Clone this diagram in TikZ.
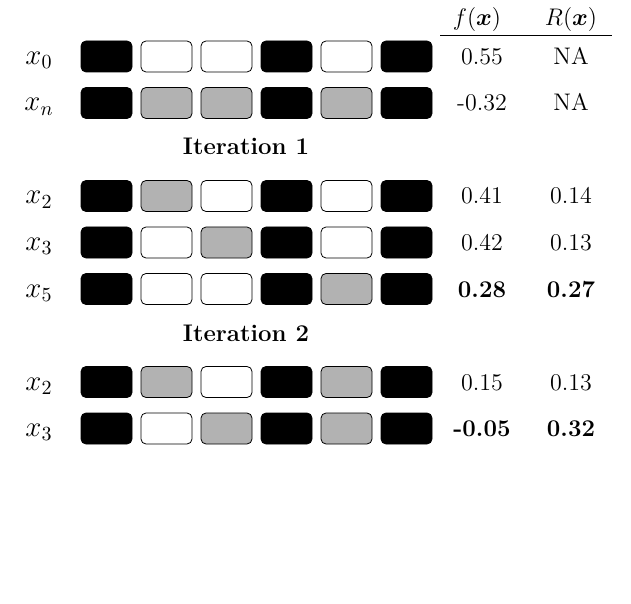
\documentclass[tikz,border=0pt]{standalone}
\usepackage{bm}
\begin{document}
\begin{tikzpicture}[x=0.5pt,y=-0.5pt,
  cell/.style={draw=black,line width=0.4pt,rounded corners=2.5pt,minimum width=25.5pt,minimum height=15.5pt,inner sep=0pt},
  B/.style={cell,fill=black},
  W/.style={cell,fill=white},
  G/.style={cell,fill=black!30},
  txt/.style={inner sep=0pt,anchor=base,font=\fontsize{12}{14}\selectfont},
  lab/.style={txt,font=\fontsize{14.5}{17}\selectfont}]
\useasboundingbox (0,0) rectangle (631,604);
% header
\node[txt] (hf) at (477,26) {$f(\bm{x})$};
\node[txt] (hr) at (571,26) {$R(\bm{x})$};
\coordinate (l1) at (440,35.5);
\coordinate (l2) at (612,35.5);
\draw[line width=0.5pt] (l1) -- (l2);
% iteration headings
\node[txt] (it1) at (246,155) {\textbf{Iteration 1}};
\node[txt] (it2) at (246,341) {\textbf{Iteration 2}};
% rows: name/y/label/pattern/f/R
\foreach \r/\y/\lbl/\pat/\fv/\rv in {
  a/56.5/{x_0}/{B,W,W,B,W,B}/{0.55}/{NA},
  b/103/{x_n}/{B,G,G,B,G,B}/{-0.32}/{NA},
  c/196/{x_2}/{B,G,W,B,W,B}/{0.41}/{0.14},
  d/242.5/{x_3}/{B,W,G,B,W,B}/{0.42}/{0.13},
  e/289/{x_5}/{B,W,W,B,G,B}/{\textbf{0.28}}/{\textbf{0.27}},
  f/382/{x_2}/{B,G,W,B,G,B}/{0.15}/{0.13},
  g/428.5/{x_3}/{B,W,G,B,G,B}/{\textbf{-0.05}}/{\textbf{0.32}}}{
  \node[lab] (lab\r) at (39,\y+8) {$\lbl$};
  \foreach \s [count=\i from 0] in \pat {
    \node[\s] (\r\i) at (106.5+60*\i,\y) {};
  }
  \node[txt] (f\r) at (482,\y+8) {\fv};
  \node[txt] (R\r) at (571,\y+8) {\rv};
}
\end{tikzpicture}
\end{document}
